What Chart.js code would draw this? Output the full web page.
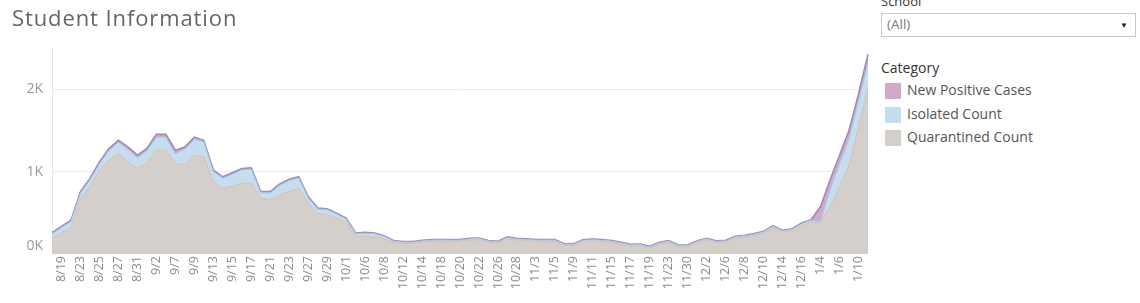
<!DOCTYPE html>
<html>
<head>
<meta charset="utf-8">
<script src="https://cdn.jsdelivr.net/npm/chart.js@4/dist/chart.umd.min.js"></script>
<style>
  html, body { margin:0; padding:0; background:#fff; width:1140px; height:303px; overflow:hidden; font-family:"Open Sans", "Noto Sans", sans-serif; }
  #wrap { position:absolute; left:0; top:0; width:880px; height:303px; }
  .abs { position:absolute; white-space:nowrap; line-height:1; }
  #title { left:12px; top:6px; font-size:22px; letter-spacing:0.9px; color:#666; }
  #schoolLbl { left:881px; top:-5px; font-size:13px; color:#333; }
  #dd { left:881px; top:13px; width:255px; height:24px; border:1px solid #c9c9c9; box-sizing:border-box; }
  #ddText { left:5px; top:4px; font-size:13.5px; color:#777; }
  #ddArrow { right:7px; top:7px; font-size:8px; color:#222; }
  #catLbl { left:881px; top:61px; font-size:14px; color:#333; }
  .sw { position:absolute; left:885px; width:16px; height:16px; }
  .lt { left:907px; font-size:14px; color:#555; }
</style>
</head>
<body>
<div id="wrap"><canvas id="c" width="880" height="303"></canvas></div>
<div class="abs" id="title">Student Information</div>
<div class="abs" id="schoolLbl">School</div>
<div class="abs" id="dd"><div class="abs" id="ddText">(All)</div><div class="abs" id="ddArrow">▼</div></div>
<div class="abs" id="catLbl">Category</div>
<div id="legend"></div>
<script>
const dates = ["8/18","8/19","8/20","8/23","8/24","8/25","8/26","8/27","8/30","8/31",
  "9/1","9/2","9/3","9/7","9/8","9/9","9/10","9/13","9/14","9/15",
  "9/16","9/17","9/20","9/21","9/22","9/23","9/24","9/27","9/28","9/29",
  "9/30","10/1","10/5","10/6","10/7","10/8","10/11","10/12","10/13","10/14",
  "10/15","10/18","10/19","10/20","10/21","10/22","10/25","10/26","10/27","10/28",
  "11/1","11/3","11/4","11/5","11/8","11/9","11/10","11/11","11/12","11/15",
  "11/16","11/17","11/18","11/19","11/22","11/23","11/29","11/30","12/1","12/2",
  "12/3","12/6","12/7","12/8","12/9","12/10","12/13","12/14","12/15","12/16",
  "12/17","1/4","1/5","1/6","1/7","1/10","1/11"];

const quarantined = [190,258,325,670,817,1018,1139,1219,1118,1038,
  1099,1259,1259,1099,1078,1199,1180,877,794,822,
  855,865,677,657,717,757,797,617,488,476,
  436,383,215,215,207,183,140,128,128,144,
  152,152,152,152,168,172,140,132,184,168,
  160,152,152,152,103,103,152,156,152,140,
  120,95,99,71,120,140,87,87,140,168,
  136,144,192,204,224,252,320,264,284,342,
  385,383,576,817,1078,1540,2022];

const isolated = [55,62,70,67,81,75,116,136,151,131,
  151,158,158,115,196,190,182,123,125,146,
  165,163,65,85,117,134,125,65,57,61,
  48,41,30,38,38,30,15,16,15,14,
  15,16,15,15,14,15,16,15,15,14,
  15,15,16,15,14,15,15,16,15,15,
  14,15,15,14,15,16,15,15,14,15,
  16,15,15,16,15,15,16,15,15,25,
  22,13,202,272,322,312,302];

const positive = [15,15,15,20,20,25,25,25,30,30,
  30,35,35,45,25,30,18,18,18,18,
  18,18,15,15,15,15,15,15,12,12,
  12,12,10,10,10,10,8,8,8,8,
  8,8,8,8,8,8,8,8,8,8,
  8,8,8,8,8,8,8,8,8,8,
  8,8,8,8,8,8,8,8,8,8,
  8,8,8,8,8,8,9,8,8,8,
  8,180,120,110,100,90,100];

const seriesNames = ["New Positive Cases","Isolated Count","Quarantined Count"];
const fillColors = ["#d4a9c8","#c6dcef","#d5cfcb"];
const lineColors = ["#a08cb2","#aac6e2","#c9c2c0"];
const yTicks = [0,1000,2000];

// HTML legend
const lg = document.getElementById('legend');
seriesNames.forEach((n, i) => {
  const sw = document.createElement('div');
  sw.className = 'sw'; sw.style.top = (83 + i*23.5) + 'px'; sw.style.background = fillColors[i];
  lg.appendChild(sw);
  const t = document.createElement('div');
  t.className = 'abs lt'; t.style.top = (83 + i*23.5) + 'px'; t.textContent = n;
  lg.appendChild(t);
});

const FONT = '"Open Sans", "Noto Sans", sans-serif';
new Chart(document.getElementById('c'), {
  type: 'line',
  data: {
    labels: dates,
    datasets: [
      { label: seriesNames[2], data: quarantined, fill: 'origin', backgroundColor: fillColors[2], borderColor: lineColors[2], borderWidth: 1, pointRadius: 0, tension: 0 },
      { label: seriesNames[1], data: isolated, fill: '-1', backgroundColor: fillColors[1], borderColor: lineColors[1], borderWidth: 1, pointRadius: 0, tension: 0 },
      { label: seriesNames[0], data: positive, fill: '-1', backgroundColor: fillColors[0], borderColor: lineColors[0], borderWidth: 1.6, pointRadius: 0, tension: 0 }
    ]
  },
  options: {
    responsive: false,
    animation: false,
    layout: { padding: { top: 48, right: 12, left: 0, bottom: 0 } },
    plugins: { legend: { display: false }, tooltip: { mode: 'index', intersect: false } },
    scales: {
      x: {
        offset: false,
        grid: { display: false, drawTicks: false },
        border: { display: false },
        ticks: {
          autoSkip: false, maxRotation: 90, minRotation: 90, padding: 2,
          color: '#8c8c8c', font: { family: FONT, size: 12.5 },
          callback: (v, i) => (i % 2 === 1 ? dates[i] : '')
        },
        afterFit: s => { s.height = 49; s.paddingLeft = 0; s.paddingRight = 0; }
      },
      y: {
        stacked: true, min: 0, max: 2500,
        afterBuildTicks: s => { s.ticks = yTicks.map(v => ({ value: v })); },
        ticks: {
          padding: 9, color: '#999', font: { family: FONT, size: 14 },
          callback: v => (v === 0 ? ['0K', ''] : (v / 1000) + 'K')
        },
        grid: { drawTicks: false, color: ctx => (ctx.tick && ctx.tick.value > 0) ? '#ebebeb' : 'rgba(0,0,0,0)' },
        border: { display: true, color: '#e8e8e8' },
        afterFit: s => { s.width = 52; }
      }
    }
  }
});
</script>
</body>
</html>
